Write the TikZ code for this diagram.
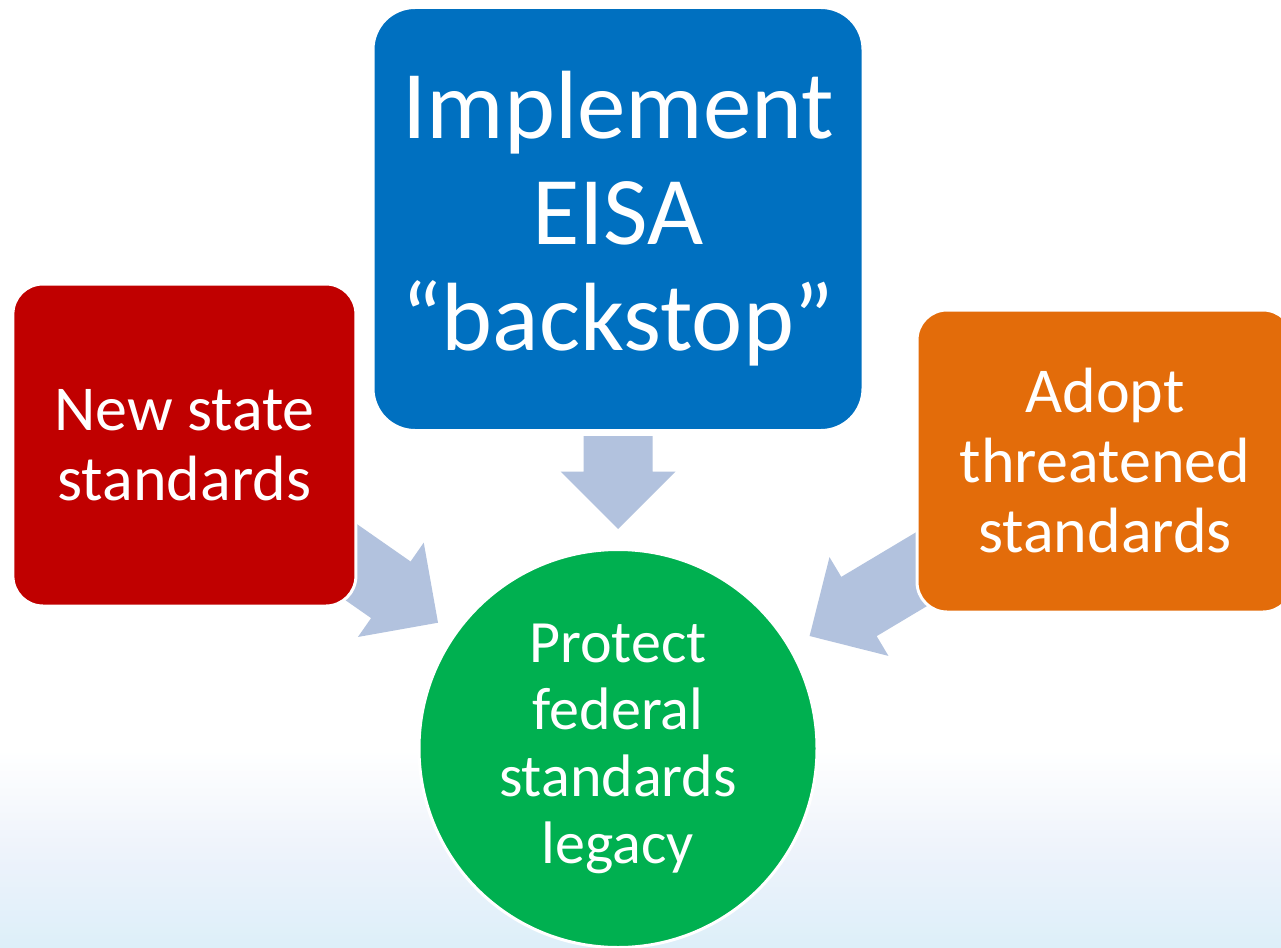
\documentclass[tikz,border=0pt]{standalone}
\usepackage{fontspec}
\setmainfont{Carlito}
\definecolor{boxred}{HTML}{C00000}
\definecolor{boxblue}{HTML}{0070C0}
\definecolor{boxorange}{HTML}{E36C0A}
\definecolor{boxgreen}{HTML}{00B050}
\definecolor{arrowcol}{HTML}{B2C2DE}
\definecolor{bgmid}{HTML}{EEF3FB}
\definecolor{bgbot}{HTML}{DDEFF9}
\begin{document}
\begin{tikzpicture}[x=1pt,y=-1pt,
  box/.style={rectangle, draw=white, line width=3pt, text=white, align=center, inner sep=0pt},
  smalltext/.style={font=\fontsize{64}{70}\selectfont},
  bigtext/.style={font=\fontsize{97}{106}\selectfont},
  pics/blockarrow/.style={code={
    \fill[arrowcol] (0,0) -- (-57.5,57.5) -- (-57.5,34.5) -- (-#1,34.5) -- (-#1,-34.5) -- (-57.5,-34.5) -- (-57.5,-57.5) -- cycle;}}
]
\useasboundingbox (0,0) rectangle (1281,947);
\fill[white] (0,0) rectangle (1281,947);
\shade[top color=white, bottom color=bgmid] (0,750) rectangle (1281,850);
\shade[top color=bgmid, bottom color=bgbot] (0,849.5) rectangle (1281,947);

% block arrows (drawn below the boxes)
\pic[rotate=-90] at (618,529) {blockarrow=93};
\pic[rotate=-34.9] at (438,622.7) {blockarrow=140};
\pic[rotate=210.85] at (809.6,636) {blockarrow=160};

% boxes
\node[box, smalltext, fill=boxred, rounded corners=30pt, minimum width=343pt, minimum height=322pt]
  (newstate) at (184.4,445) {New state\\standards};
\node[box, bigtext, fill=boxblue, rounded corners=42pt, minimum width=490pt, minimum height=423pt]
  (eisa) at (618,219) {Implement\\EISA\\“backstop”};
\node[box, smalltext, fill=boxorange, rounded corners=30pt, minimum width=376pt, minimum height=302pt]
  (adopt) at (1105,461) {Adopt\\threatened\\standards};
\node[circle, draw=white, line width=3pt, fill=boxgreen, text=white, align=center, inner sep=0pt,
  minimum size=398pt, font=\fontsize{60}{67}\selectfont]
  (protect) at (618,748.5) {Protect\\federal\\standards\\legacy};
\end{tikzpicture}
\end{document}
